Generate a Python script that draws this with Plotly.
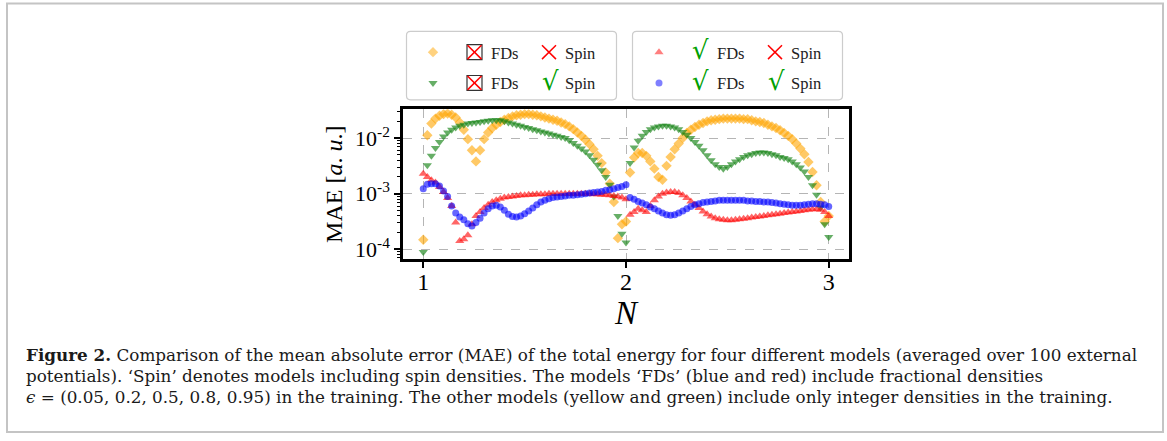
import numpy as np
import plotly.graph_objects as go

# ---------------- data ----------------
n_values = [
    1.00, 1.02, 1.04, 1.06, 1.08, 1.10, 1.12, 1.14, 1.16, 1.18,
    1.20, 1.22, 1.24, 1.26, 1.28, 1.30, 1.32, 1.34, 1.36, 1.38,
    1.40, 1.42, 1.44, 1.46, 1.48, 1.50, 1.52, 1.54, 1.56, 1.58,
    1.60, 1.62, 1.64, 1.66, 1.68, 1.70, 1.72, 1.74, 1.76, 1.78,
    1.80, 1.82, 1.84, 1.86, 1.88, 1.90, 1.92, 1.94, 1.96, 1.98,
    2.00, 2.02, 2.04, 2.06, 2.08, 2.10, 2.12, 2.14, 2.16, 2.18,
    2.20, 2.22, 2.24, 2.26, 2.28, 2.30, 2.32, 2.34, 2.36, 2.38,
    2.40, 2.42, 2.44, 2.46, 2.48, 2.50, 2.52, 2.54, 2.56, 2.58,
    2.60, 2.62, 2.64, 2.66, 2.68, 2.70, 2.72, 2.74, 2.76, 2.78,
    2.80, 2.82, 2.84, 2.86, 2.88, 2.90, 2.92, 2.94, 2.96, 2.98,
    3.00,
]

# log10(MAE) values, one per N value
log_mae_orange = [  # no FDs, no spin
    -3.83, -1.95, -1.74, -1.65, -1.60, -1.57, -1.56, -1.58, -1.63, -1.72,
    -1.85, -2.02, -2.22, -2.42, -2.22, -2.02, -1.90, -1.82, -1.76, -1.71,
    -1.67, -1.64, -1.61, -1.59, -1.58, -1.57, -1.57, -1.58, -1.59, -1.61,
    -1.63, -1.65, -1.67, -1.69, -1.72, -1.75, -1.79, -1.84, -1.90, -1.96,
    -2.03, -2.11, -2.20, -2.32, -2.45, -2.62, -2.82, -3.15, -3.80, -3.55,
    -3.50, -2.62, -2.35, -2.27, -2.27, -2.32, -2.42, -2.55, -2.70, -2.75,
    -2.50, -2.34, -2.20, -2.10, -2.00, -1.91, -1.85, -1.80, -1.76, -1.73,
    -1.70, -1.68, -1.67, -1.66, -1.65, -1.65, -1.65, -1.65, -1.65, -1.66,
    -1.66, -1.68, -1.70, -1.71, -1.73, -1.76, -1.79, -1.82, -1.86, -1.91,
    -1.96, -2.02, -2.10, -2.19, -2.29, -2.43, -2.61, -2.85, -3.15, -3.50,
    -3.40,
]
log_mae_green = [  # no FDs, spin
    -4.05, -2.49, -2.32, -2.18, -2.07, -1.97, -1.90, -1.85, -1.81, -1.78,
    -1.76, -1.74, -1.73, -1.72, -1.71, -1.70, -1.69, -1.68, -1.68, -1.68,
    -1.70, -1.72, -1.74, -1.76, -1.78, -1.80, -1.82, -1.84, -1.86, -1.88,
    -1.90, -1.92, -1.94, -1.96, -1.98, -2.00, -2.04, -2.09, -2.14, -2.19,
    -2.24, -2.31, -2.39, -2.48, -2.58, -2.70, -2.84, -3.05, -3.40, -3.72,
    -3.88, -2.45, -2.17, -2.05, -1.96, -1.89, -1.84, -1.81, -1.79, -1.78,
    -1.78, -1.79, -1.81, -1.84, -1.89, -1.94, -2.00, -2.07, -2.14, -2.22,
    -2.31, -2.40, -2.47, -2.52, -2.55, -2.52, -2.47, -2.42, -2.38, -2.34,
    -2.31, -2.29, -2.27, -2.26, -2.26, -2.27, -2.29, -2.31, -2.34, -2.36,
    -2.38, -2.42, -2.47, -2.53, -2.60, -2.70, -2.85, -3.02, -3.25, -3.55,
    -3.78,
]
log_mae_red = [  # FDs, no spin
    -2.64, -2.70, -2.76, -2.80, -2.88, -2.97, -3.08, -3.22, -3.52, -3.85,
    -3.82, -3.75, -3.55, -3.40, -3.33, -3.26, -3.20, -3.15, -3.12, -3.09,
    -3.07, -3.06, -3.05, -3.04, -3.03, -3.03, -3.02, -3.02, -3.01, -3.01,
    -3.01, -3.00, -3.00, -3.00, -3.00, -3.00, -3.00, -3.00, -3.00, -3.00,
    -3.00, -3.00, -3.01, -3.01, -3.02, -3.02, -3.03, -3.04, -3.05, -3.07,
    -3.10, -3.38, -3.33, -3.27, -3.30, -3.33, -3.22, -3.12, -3.05, -3.00,
    -2.98, -2.97, -2.97, -2.99, -3.03, -3.08, -3.14, -3.20, -3.26, -3.32,
    -3.37, -3.41, -3.44, -3.46, -3.47, -3.48, -3.48, -3.47, -3.46, -3.45,
    -3.44, -3.43, -3.42, -3.41, -3.40, -3.39, -3.38, -3.37, -3.36, -3.35,
    -3.34, -3.33, -3.32, -3.31, -3.30, -3.29, -3.28, -3.28, -3.29, -3.33,
    -3.40,
]
log_mae_blue = [  # FDs, spin
    -2.91, -2.83, -2.82, -2.82, -2.86, -2.95, -3.05, -3.22, -3.35, -3.42,
    -3.47, -3.54, -3.58, -3.52, -3.44, -3.35, -3.27, -3.22, -3.21, -3.24,
    -3.30, -3.37, -3.41, -3.42, -3.40, -3.36, -3.31, -3.26, -3.20, -3.15,
    -3.12, -3.09, -3.07, -3.06, -3.05, -3.04, -3.03, -3.03, -3.02, -3.01,
    -3.00, -2.99, -2.98, -2.97, -2.96, -2.94, -2.93, -2.91, -2.89, -2.87,
    -2.84, -3.07, -3.10, -3.14, -3.17, -3.20, -3.24, -3.27, -3.31, -3.35,
    -3.38, -3.39, -3.38, -3.35, -3.31, -3.27, -3.23, -3.20, -3.18, -3.16,
    -3.15, -3.14, -3.13, -3.12, -3.12, -3.12, -3.12, -3.12, -3.12, -3.12,
    -3.13, -3.13, -3.14, -3.14, -3.15, -3.15, -3.16, -3.17, -3.18, -3.19,
    -3.20, -3.21, -3.21, -3.21, -3.20, -3.19, -3.18, -3.18, -3.19, -3.20,
    -3.23,
]

x_tick_values = [1, 2, 3]
x_tick_labels = ["1", "2", "3"]
y_tick_values = [1e-4, 1e-3, 1e-2]
y_tick_labels = ["10<sup>-4</sup>", "10<sup>-3</sup>", "10<sup>-2</sup>"]

caption_lines = [
    "<b>Figure 2.</b> Comparison of the mean absolute error (MAE) of the total energy for four different models (averaged over 100 external",
    "potentials). \u2018Spin\u2019 denotes models including spin densities. The models \u2018FDs\u2019 (blue and red) include fractional densities",
    "<i>\u03f5</i> = (0.05, 0.2, 0.5, 0.8, 0.95) in the training. The other models (yellow and green) include only integer densities in the training.",
]

# ---------------- figure ----------------
W, H = 1167, 441
SERIF = "Liberation Serif, Times New Roman, serif"
CAPTION_FONT = "DejaVu Serif, serif"

series = [
    # values, symbol, colour, size, legend box, legend row, FDs?, Spin?
    (log_mae_orange, "diamond", "rgba(255,165,0,0.6)", 8, 0, 0, False, False),
    (log_mae_green, "triangle-down", "rgba(20,130,20,0.65)", 8, 0, 1, False, True),
    (log_mae_red, "triangle-up", "rgba(255,0,0,0.6)", 8, 1, 0, True, False),
    (log_mae_blue, "circle", "rgba(0,0,255,0.6)", 7, 1, 1, True, True),
]

fig = go.Figure()
for vals, sym, col, size, _, _, _, _ in series:
    fig.add_trace(go.Scatter(
        x=n_values, y=10 ** np.array(vals), mode="markers",
        marker=dict(symbol=sym, size=size, color=col, line=dict(width=0)),
        showlegend=False, hoverinfo="skip"))

# legend layout (pixel coordinates on an invisible overlay axis)
box_left = [406.5, 632.5]
box_w, box_top, box_bot = 210, 31.5, 100.5
row_y = [52.5, 83.5]
shapes = []
annotations = []


def rounded_rect(x0, y0, x1, y1, r):
    return (f"M {x0 + r},{y0} L {x1 - r},{y0} Q {x1},{y0} {x1},{y0 + r} "
            f"L {x1},{y1 - r} Q {x1},{y1} {x1 - r},{y1} L {x0 + r},{y1} "
            f"Q {x0},{y1} {x0},{y1 - r} L {x0},{y0 + r} Q {x0},{y0} {x0 + r},{y0} Z")


for bl in box_left:
    shapes.append(dict(type="path", xref="x2", yref="y2",
                       path=rounded_rect(bl, box_top, bl + box_w, box_bot, 4),
                       line=dict(color="#cccccc", width=1.2), fillcolor="white", layer="below"))


def add_cross(cx, cy, half=7):
    shapes.append(dict(type="line", xref="x2", yref="y2", x0=cx - half, y0=cy - half,
                       x1=cx + half, y1=cy + half, line=dict(color="#ff0000", width=1.5)))
    shapes.append(dict(type="line", xref="x2", yref="y2", x0=cx - half, y0=cy + half,
                       x1=cx + half, y1=cy - half, line=dict(color="#ff0000", width=1.5)))


def add_check(cx, cy):
    annotations.append(dict(xref="x2", yref="y2", x=cx, y=cy, text="\u221a", showarrow=False,
                            xanchor="center", yanchor="middle",
                            font=dict(family="DejaVu Serif", size=26, color="#00a000")))


def add_label(x, y, txt):
    annotations.append(dict(xref="x2", yref="y2", x=x, y=y, text=txt, showarrow=False,
                            xanchor="left", yanchor="middle",
                            font=dict(family=SERIF, size=16.5, color="#222222")))


for vals, sym, col, size, box, row, fds, spin in series:
    bl = box_left[box]
    cy = row_y[row]
    fig.add_trace(go.Scatter(
        x=[bl + 26.5], y=[cy], mode="markers", xaxis="x2", yaxis="y2",
        marker=dict(symbol=sym, size=size, color=col.replace("0.6)", "0.5)"), line=dict(width=0)),
        showlegend=False, hoverinfo="skip"))
    # FDs indicator
    fx = bl + 68
    if fds:
        add_check(fx, cy - 2)
    else:
        shapes.append(dict(type="rect", xref="x2", yref="y2", x0=fx - 7.5, y0=cy - 7.5,
                           x1=fx + 7.5, y1=cy + 7.5, line=dict(color="#333333", width=1.2)))
        add_cross(fx, cy, 7)
    add_label(bl + 82, cy + 1, "FDs")
    # Spin indicator
    sx = bl + 142.5
    if spin:
        add_check(sx + 1, cy - 2)
    else:
        add_cross(sx, cy, 7)
    add_label(bl + 156.5, cy + 1, "Spin")

# outer frame of the figure
shapes.append(dict(type="rect", xref="x2", yref="y2", x0=7, y0=3.5, x1=1163, y1=435,
                   line=dict(color="#c4c4c4", width=2), layer="below"))

# caption
for i, line in enumerate(caption_lines):
    annotations.append(dict(xref="x2", yref="y2", x=24, y=357.5 + 21 * i, text=line,
                            showarrow=False, xanchor="left", yanchor="middle",
                            font=dict(family=CAPTION_FONT, size=16.8, color="#1a1a1a")))

axis_common = dict(showline=True, mirror=True, linecolor="black", linewidth=2.5,
                   ticks="outside", tickcolor="black", zeroline=False,
                   showgrid=True, gridcolor="#b5b5b5", griddash="dash", gridwidth=1)

fig.update_layout(
    width=W, height=H,
    margin=dict(l=0, r=0, t=0, b=0, pad=0),
    paper_bgcolor="white", plot_bgcolor="rgba(0,0,0,0)",
    xaxis=dict(domain=[403 / W, 849 / W], range=[0.9, 3.1],
               tickvals=x_tick_values, ticktext=x_tick_labels,
               ticklen=6, tickwidth=2, ticklabelstandoff=-7,
               tickfont=dict(family=SERIF, size=24, color="black"),
               title=dict(text="<i>N</i>", font=dict(family=SERIF, size=33, color="black"), standoff=0),
               **axis_common),
    yaxis=dict(domain=[1 - 261 / H, 1 - 110 / H], type="log", range=[-4.179, -1.482],
               tickvals=y_tick_values, ticktext=y_tick_labels,
               ticklen=6, tickwidth=1.5,
               minor=dict(ticks="outside", ticklen=3.5, tickwidth=1, tickcolor="black", dtick="D1", showgrid=False),
               tickfont=dict(family=SERIF, size=22, color="black"),
               title=dict(text="MAE [<i>a</i>. <i>u</i>.]", font=dict(family=SERIF, size=24, color="black"), standoff=6),
               **axis_common),
    xaxis2=dict(domain=[0, 1], range=[0, W], visible=False, anchor="y2", fixedrange=True),
    yaxis2=dict(domain=[0, 1], range=[H, 0], visible=False, anchor="x2", fixedrange=True),
    shapes=shapes,
    annotations=annotations,
    showlegend=False,
)

fig.write_html("out.html")
